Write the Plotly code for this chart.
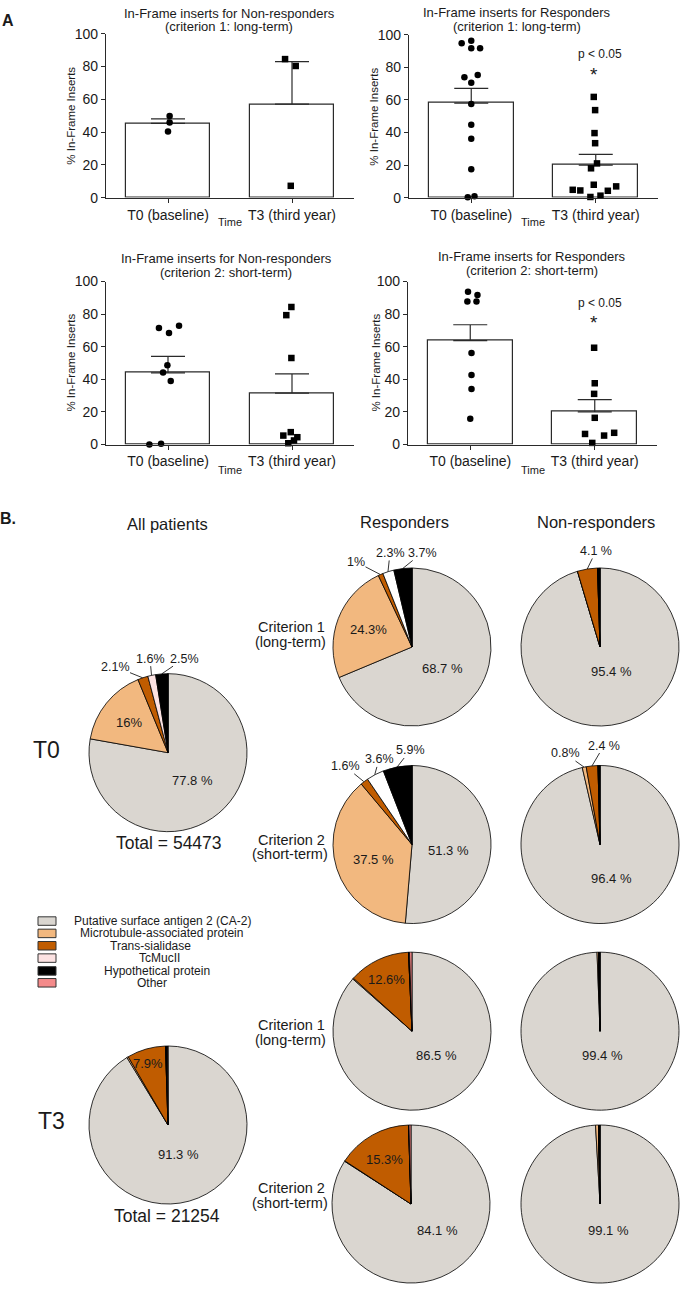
import math
import plotly.graph_objects as go

W, H = 682, 1293
FONT = "Liberation Sans, Arial, sans-serif"
INK = "#1a1a1a"


def px(x):
    return x / W


def py(y):
    return 1 - y / H


# ---------------- Bar chart data ----------------
bar_categories = ["T0 (baseline)", "T3 (third year)"]

nr1_means = [45.3, 57.0]
nr1_sem = [2.7, 25.9]
nr1_t0 = [49.8, 45.8, 40.4]
nr1_t3 = [84.5, 80.3, 7.2]

r1_means = [58.0, 20.0]
r1_sem = [9.1, 6.5]
r1_t0 = [94.7, 96.2, 91.7, 91.7, 73.9, 75.2, 70.5, 57.4, 44.7, 36.2, 17.4, 0.2, 0.8]
r1_t3 = [61.8, 53.7, 39.6, 33.4, 21.0, 18.0, 7.9, 4.8, 4.4, 4.2, 6.9, 0.4, 1.2]

nr2_means = [44.0, 31.5]
nr2_sem = [10.1, 11.9]
nr2_t0 = [71.5, 68.5, 72.9, 48.7, 44.2, 39.0, 0.0, 0.5]
nr2_t3 = [84.4, 79.4, 53.1, 7.6, 5.5, 4.5, 2.5, 0.8]

r2_means = [63.8, 20.0]
r2_sem = [9.7, 7.5]
r2_t0 = [93.8, 91.7, 87.7, 87.7, 56.2, 42.6, 34.1, 15.8]
r2_t3 = [59.4, 37.6, 31.1, 16.4, 6.5, 5.5, 7.2, 1.0]

# horizontal scatter of the dots (category units)
jit_nr1_t0 = [0.013, 0.013, 0.0]
jit_nr1_t3 = [-0.056, 0.03, -0.01]
jit_r1_t0 = [-0.077, 0.0, 0.0, 0.071, -0.055, 0.052, 0.0, 0.0, 0.0, 0.0, 0.0, -0.028, 0.026]
jit_r1_t3 = [-0.016, -0.005, -0.01, -0.005, 0.01, -0.038, -0.016, -0.185, -0.124, 0.097, 0.164, -0.043, 0.038]
jit_nr2_t0 = [-0.073, 0.008, 0.089, -0.005, -0.04, 0.022, -0.15, -0.056]
jit_nr2_t3 = [-0.005, -0.046, -0.005, -0.01, -0.07, 0.043, 0.016, -0.03]
jit_r2_t0 = [-0.018, 0.058, -0.023, 0.05, 0.01, 0.01, 0.01, 0.0]
jit_r2_t3 = [-0.005, 0.0, -0.005, 0.0, -0.078, 0.075, 0.156, -0.02]

# ---------------- Pie data (percent) ----------------
protein_classes = ["Putative surface antigen 2 (CA-2)", "Microtubule-associated protein",
                   "Trans-sialidase", "TcMucII", "Hypothetical protein", "Other"]
class_colors = ["#DAD6D0", "#F2B87F", "#C05C00", "#FCE2E2", "#000000", "#F48A8A"]

all_t0 = [77.8, 16.0, 2.1, 1.6, 2.5, 0.0]
all_t3 = [91.3, 0.3, 7.9, 0.0, 0.4, 0.1]
resp_c1_t0 = [68.7, 24.3, 1.0, 2.3, 3.7, 0.0]
nonresp_c1_t0 = [95.4, 0.0, 4.1, 0.0, 0.5, 0.0]
resp_c2_t0 = [51.3, 37.5, 1.6, 3.6, 5.9, 0.0]
nonresp_c2_t0 = [96.4, 0.8, 2.4, 0.0, 0.4, 0.0]
resp_c1_t3 = [86.5, 0.2, 12.6, 0.0, 0.2, 0.5]
nonresp_c1_t3 = [99.4, 0.3, 0.0, 0.0, 0.3, 0.0]
resp_c2_t3 = [84.1, 0.1, 15.3, 0.0, 0.1, 0.4]
nonresp_c2_t3 = [99.1, 0.6, 0.0, 0.0, 0.3, 0.0]

total_t0 = 54473
total_t3 = 21254

fig = go.Figure()
annotations = []
shapes = []


def ann(text, x, y, size=12, color=INK, bold=False, xanchor="center", textangle=0):
    if bold:
        text = "<b>" + text + "</b>"
    annotations.append(dict(text=text, x=px(x), y=py(y), xref="paper", yref="paper",
                            showarrow=False, xanchor=xanchor, yanchor="middle",
                            textangle=textangle,
                            font=dict(family=FONT, size=size, color=color)))


# ---------------- Bar charts ----------------
bar_panels = [
    # means, sems, t0, t3, jit0, jit3, x-domain px, y-domain px
    (nr1_means, nr1_sem, nr1_t0, nr1_t3, jit_nr1_t0, jit_nr1_t3, (106, 354), (26, 192)),
    (r1_means, r1_sem, r1_t0, r1_t3, jit_r1_t0, jit_r1_t3, (409, 658), (27, 192)),
    (nr2_means, nr2_sem, nr2_t0, nr2_t3, jit_nr2_t0, jit_nr2_t3, (106, 354), (277, 442)),
    (r2_means, r2_sem, r2_t0, r2_t3, jit_r2_t0, jit_r2_t3, (408, 657), (277, 442)),
]

layout_axes = {}
for i, (means, sems, v0, v3, j0, j3, xd, yd) in enumerate(bar_panels, start=1):
    xa = "x" if i == 1 else f"x{i}"
    ya = "y" if i == 1 else f"y{i}"
    fig.add_trace(go.Bar(
        x=[0, 1], y=means, width=0.68, xaxis=xa, yaxis=ya, showlegend=False,
        marker=dict(color="white", line=dict(color="#2a2a2a", width=1.2)),
        error_y=dict(type="data", symmetric=False, array=sems, arrayminus=[0, 0],
                     color="#2a2a2a", thickness=1.2, width=17)))
    fig.add_trace(go.Scatter(
        x=[0 + j for j in j0], y=v0, mode="markers", xaxis=xa, yaxis=ya, showlegend=False,
        cliponaxis=False, marker=dict(symbol="circle", size=6.5, color="black")))
    fig.add_trace(go.Scatter(
        x=[1 + j for j in j3], y=v3, mode="markers", xaxis=xa, yaxis=ya, showlegend=False,
        cliponaxis=False, marker=dict(symbol="square", size=6.5, color="black")))
    key = "" if i == 1 else str(i)
    layout_axes["xaxis" + key] = dict(
        domain=[px(xd[0]), px(xd[1])], anchor=ya, range=[-0.5, 1.5],
        tickvals=[0, 1], ticktext=bar_categories, showline=True, linecolor="#2a2a2a",
        linewidth=1.2, ticks="outside", ticklen=4, tickcolor="#2a2a2a", showgrid=False,
        zeroline=False, tickfont=dict(family=FONT, size=14, color=INK))
    layout_axes["yaxis" + key] = dict(
        domain=[py(yd[1]), py(yd[0])], anchor=xa, range=[0, 100],
        tickvals=[0, 20, 40, 60, 80, 100], showline=True, linecolor="#2a2a2a",
        linewidth=1.2, ticks="outside", ticklen=4, tickcolor="#2a2a2a", showgrid=False,
        zeroline=False, tickfont=dict(family=FONT, size=14, color=INK))

# bar chart texts
ann("A", 8, 13, size=16, bold=True)
ann("In-Frame inserts for Non-responders", 229, 5.5, size=13)
ann("(criterion 1: long-term)", 229, 19, size=13)
ann("In-Frame inserts for Responders", 517, 5, size=13)
ann("(criterion 1: long-term)", 517, 18.5, size=13)
ann("In-Frame inserts for Non-responders", 226, 254, size=13)
ann("(criterion 2: short-term)", 226, 267.5, size=13)
ann("In-Frame inserts for Responders", 532, 252, size=13)
ann("(criterion 2: short-term)", 532, 265.5, size=13)
for (x, y) in [(71, 109), (374, 110), (71, 359), (376, 359)]:
    ann("% In-Frame Inserts", x, y, size=11.5, textangle=-90)
for (x, y) in [(230, 217), (533, 217), (230, 468), (533, 468)]:
    ann("Time", x, y, size=11)
ann("p &lt; 0.05", 600, 47, size=12)
ann("*", 594, 67, size=19)
ann("p &lt; 0.05", 600, 299, size=12)
ann("*", 594, 318, size=19)

# ---------------- Pie charts ----------------
R = 80
pie_specs = {
    "all_t0": (all_t0, 168, 754),
    "all_t3": (all_t3, 168, 1131),
    "r_c1_t0": (resp_c1_t0, 412, 647),
    "n_c1_t0": (nonresp_c1_t0, 600, 647),
    "r_c2_t0": (resp_c2_t0, 412, 847),
    "n_c2_t0": (nonresp_c2_t0, 600, 847),
    "r_c1_t3": (resp_c1_t3, 412, 1036),
    "n_c1_t3": (nonresp_c1_t3, 600, 1036),
    "r_c2_t3": (resp_c2_t3, 411, 1211),
    "n_c2_t3": (nonresp_c2_t3, 600, 1211),
}
# TcMucII slices in the responder pies are drawn white in the original
white_tcmuc = {"r_c1_t0", "r_c2_t0"}
for name, (vals, cx, cy) in pie_specs.items():
    cols = list(class_colors)
    if name in white_tcmuc:
        cols[3] = "#FFFFFF"
    fig.add_trace(go.Pie(
        values=vals, labels=protein_classes, sort=False, direction="clockwise", rotation=0,
        marker=dict(colors=cols, line=dict(color="black", width=0.8)),
        textinfo="none", hoverinfo="label+percent", showlegend=False,
        domain=dict(x=[px(cx - R), px(cx + R)], y=[py(cy + R), py(cy - R)])))

# slice labels: (pie, text, text x, text y, slice index for leader line or None)
slice_labels = [
    ("all_t0", "2.1%", 115, 667, 2), ("all_t0", "1.6%", 150, 659, 3), ("all_t0", "2.5%", 184, 659, 4),
    ("all_t0", "16%", 129, 723, None), ("all_t0", "77.8 %", 192, 782, None),
    ("all_t3", "7.9%", 148, 1069, None), ("all_t3", "91.3 %", 178, 1161, None),
    ("r_c1_t0", "1%", 356, 561, 2), ("r_c1_t0", "2.3%", 390, 552, 3), ("r_c1_t0", "3.7%", 422, 552, 4),
    ("r_c1_t0", "24.3%", 368, 629, None), ("r_c1_t0", "68.7 %", 442, 669, None),
    ("n_c1_t0", "4.1 %", 596, 550, 2), ("n_c1_t0", "95.4 %", 611, 672, None),
    ("r_c2_t0", "1.6%", 345, 768, 2), ("r_c2_t0", "3.6%", 379, 761, 3), ("r_c2_t0", "5.9%", 410, 752, 4),
    ("r_c2_t0", "37.5 %", 373, 862, None), ("r_c2_t0", "51.3 %", 448, 853, None),
    ("n_c2_t0", "0.8%", 565, 755, 1), ("n_c2_t0", "2.4 %", 604, 747, 2), ("n_c2_t0", "96.4 %", 611, 881, None),
    ("r_c1_t3", "12.6%", 386, 984, None), ("r_c1_t3", "86.5 %", 436, 1061, None),
    ("n_c1_t3", "99.4 %", 602, 1061, None),
    ("r_c2_t3", "15.3%", 384, 1166, None), ("r_c2_t3", "84.1 %", 437, 1238, None),
    ("n_c2_t3", "99.1 %", 608, 1238, None),
]
for pie, text, tx, ty, sidx in slice_labels:
    if sidx is None:
        ann(text, tx, ty, size=13)
        continue
    vals, cx, cy = pie_specs[pie]
    tot = sum(vals)
    mid = (sum(vals[:sidx]) + vals[sidx] / 2) / tot
    th = 2 * math.pi * mid
    hx = cx + R * math.sin(th)
    hy = cy - R * math.cos(th)
    annotations.append(dict(
        text=text, x=px(hx), y=py(hy), xref="paper", yref="paper", showarrow=True,
        ax=tx - hx, ay=ty - hy, axref="pixel", ayref="pixel", arrowhead=0, arrowwidth=0.8,
        arrowcolor="black", standoff=0, startstandoff=0, borderpad=0,
        font=dict(family=FONT, size=12.5, color=INK)))

# pie section headings
ann("<b>B.</b>", 8, 517, size=16)
ann("All patients", 167, 522, size=16.5)
ann("Responders", 404, 520, size=16.5)
ann("Non-responders", 596, 520, size=16.5)
ann("T0", 46, 751, size=23)
ann("T3", 51, 1127, size=23)
ann(f"Total = {total_t0}", 169, 845, size=17.5)
ann(f"Total = {total_t3}", 167, 1223, size=17.5)
for (y1, crit, sub) in [(627, "Criterion 1", "(long-term)"), (842, "Criterion 2", "(short-term)"),
                        (1030, "Criterion 1", "(long-term)"), (1195, "Criterion 2", "(short-term)")]:
    ann(crit, 291, y1, size=14.5)
    ann(sub, 290, y1 + 15, size=14.5)

# legend (boxes + centered text)
legend_rows_y = [924.5, 937, 949.5, 962, 975, 987]
legend_text_x = [162, 161, 150, 159, 157, 152]
for name, col, y, tx in zip(protein_classes, class_colors, legend_rows_y, legend_text_x):
    shapes.append(dict(type="rect", xref="paper", yref="paper",
                       x0=px(38), x1=px(56), y0=py(y + 4.3), y1=py(y - 4.3),
                       fillcolor=col, line=dict(color="#333", width=1)))
    ann(name, tx, y, size=12)

fig.update_layout(
    width=W, height=H, margin=dict(l=0, r=0, t=0, b=0),
    paper_bgcolor="white", plot_bgcolor="white",
    annotations=annotations, shapes=shapes, showlegend=False, bargap=0,
    **layout_axes)

fig.write_html("out.html", config={"displayModeBar": False},
               post_script="document.body.style.margin='0';document.body.style.overflow='hidden';")
